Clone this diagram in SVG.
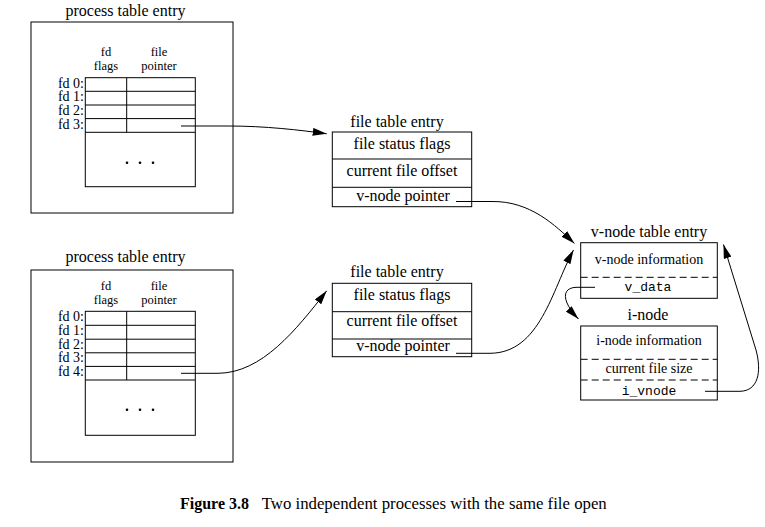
<svg xmlns="http://www.w3.org/2000/svg" width="765" height="527" viewBox="0 0 765 527">
<style>
.bx{fill:none;stroke:#000;stroke-width:1}
.ds{fill:none;stroke:#000;stroke-width:1;stroke-dasharray:7,4}
.t{font-family:"Liberation Serif","Times New Roman",serif;font-size:16px;fill:#000}
.s{font-family:"Liberation Serif","Times New Roman",serif;font-size:14px;fill:#000}
.h{font-family:"Liberation Serif","Times New Roman",serif;font-size:12.5px;fill:#000}
.m{font-family:"Liberation Mono","Courier New",monospace;font-size:13px;fill:#000}
.c{text-anchor:middle}
.r{text-anchor:end}
.cn{fill:none;stroke:#000;stroke-width:1}
</style>
<defs>
<marker id="ah" viewBox="0 0 14 8" refX="14" refY="4" markerWidth="14" markerHeight="8" markerUnits="userSpaceOnUse" orient="auto">
<path d="M0,0 L14,4 L0,8 z" fill="#000"/>
</marker>
</defs>
<rect width="765" height="527" fill="#fff"/>

<g id="proc1">
<text class="t c" x="125.5" y="16" font-size="16.5">process table entry</text>
<rect class="bx" x="31" y="22" width="202" height="191"/>
<text class="h c" x="106" y="56">fd</text>
<text class="h c" x="106" y="70">flags</text>
<text class="h c" x="159" y="56">file</text>
<text class="h c" x="159" y="70">pointer</text>
<rect class="bx" x="85.3" y="77.7" width="110" height="109"/>
<path class="bx" d="M85.3,91.3H195.3M85.3,105H195.3M85.3,118.6H195.3M85.3,132.3H195.3M126.7,77.7V132.3"/>
<text class="s r" x="84" y="87.5">fd 0:</text>
<text class="s r" x="84" y="101.2">fd 1:</text>
<text class="s r" x="84" y="114.8">fd 2:</text>
<text class="s r" x="84" y="128.5">fd 3:</text>
<circle cx="127" cy="162.7" r="1.3"/><circle cx="140" cy="162.7" r="1.3"/><circle cx="153" cy="162.7" r="1.3"/>
</g>

<g id="proc2">
<text class="t c" x="125.5" y="262" font-size="16.5">process table entry</text>
<rect class="bx" x="31" y="270" width="202" height="192"/>
<text class="h c" x="106" y="289.5">fd</text>
<text class="h c" x="106" y="303.5">flags</text>
<text class="h c" x="159" y="289.5">file</text>
<text class="h c" x="159" y="303.5">pointer</text>
<rect class="bx" x="85.3" y="311.3" width="110" height="124"/>
<path class="bx" d="M85.3,325.3H195.3M85.3,339.2H195.3M85.3,352.8H195.3M85.3,366.4H195.3M85.3,380H195.3M126.7,311.3V380"/>
<text class="s r" x="84" y="321.3">fd 0:</text>
<text class="s r" x="84" y="335.2">fd 1:</text>
<text class="s r" x="84" y="348.8">fd 2:</text>
<text class="s r" x="84" y="362.4">fd 3:</text>
<text class="s r" x="84" y="376">fd 4:</text>
<circle cx="127" cy="409.7" r="1.3"/><circle cx="140" cy="409.7" r="1.3"/><circle cx="153" cy="409.7" r="1.3"/>
</g>

<g id="file1">
<text class="t c" x="397" y="127">file table entry</text>
<rect class="bx" x="332.3" y="132" width="139.4" height="74.7"/>
<path class="bx" d="M332.3,159H471.7M332.3,187.3H471.7"/>
<text class="t c" x="402" y="149">file status flags</text>
<text class="t c" x="402" y="176">current file offset</text>
<text class="t c" x="403" y="201">v-node pointer</text>
</g>

<g id="file2">
<text class="t c" x="397" y="277">file table entry</text>
<rect class="bx" x="332.3" y="283.3" width="139.4" height="73.4"/>
<path class="bx" d="M332.3,311.7H471.7M332.3,339H471.7"/>
<text class="t c" x="402" y="299.5">file status flags</text>
<text class="t c" x="402" y="326">current file offset</text>
<text class="t c" x="403" y="351">v-node pointer</text>
</g>

<g id="vnode">
<text class="t c" x="649" y="237">v-node table entry</text>
<rect class="bx" x="580.7" y="242.7" width="136.6" height="55.6"/>
<path class="ds" d="M580.7,277.3H717.3"/>
<text class="s c" x="649" y="264">v-node information</text>
<text class="m c" x="648" y="291">v_data</text>
</g>

<g id="inode">
<text class="t c" x="648" y="320">i-node</text>
<rect class="bx" x="580.7" y="326" width="136.6" height="74"/>
<path class="ds" d="M580.7,359.3H717.3M580.7,380H717.3"/>
<text class="s c" x="649" y="344.5">i-node information</text>
<text class="s c" x="649" y="373">current file size</text>
<text class="m c" x="649" y="394.5">i_vnode</text>
</g>

<g id="connectors">
<path class="cn" marker-end="url(#ah)" d="M181,126H228C265,126 300,130 326.7,133.8"/>
<path class="cn" marker-end="url(#ah)" d="M181,373.3H218C262,373 296,330 326.7,290.8"/>
<path class="cn" marker-end="url(#ah)" d="M456,201.5H492C530,201 555,225 574.5,243.5"/>
<path class="cn" marker-end="url(#ah)" d="M456,353.3H490C540,353 552,290 573.5,250"/>
<path class="cn" marker-end="url(#ah)" d="M595,287.3H576C561,288 562,302 578.5,319"/>
<path class="cn" marker-end="url(#ah)" d="M705,391.3H740C758,391 762,372 756,350L723.5,244.5"/>
</g>

<g id="caption">
<text class="t" x="180" y="509"><tspan font-weight="bold">Figure 3.8</tspan><tspan x="261.7" font-size="16.8">Two independent processes with the same file open</tspan></text>
</g>
</svg>
